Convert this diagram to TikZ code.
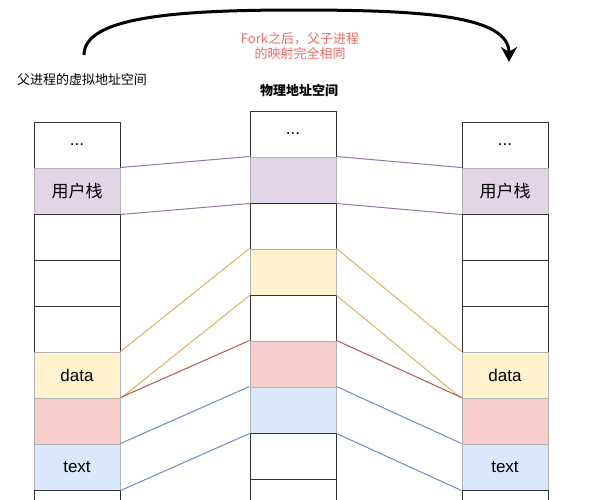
\documentclass[tikz,border=0pt]{standalone}
\usepackage{fontspec}
\setmainfont{Liberation Sans}
\newfontfamily\cjk{Noto Sans CJK SC}
\usepackage{tikz}
\usetikzlibrary{arrows.meta, positioning}
\usepackage{xcolor}
\definecolor{stackfill}{HTML}{E1D5E7}
\definecolor{stackline}{HTML}{9673A6}
\definecolor{datafill}{HTML}{FFF2CC}
\definecolor{dataline}{HTML}{D6B656}
\definecolor{bssfill}{HTML}{F8CECC}
\definecolor{bssline}{HTML}{B85450}
\definecolor{textfill}{HTML}{DAE8FC}
\definecolor{textline}{HTML}{6C8EBF}
\definecolor{forkred}{HTML}{EA6B66}
\tikzstyle{cell} = [rectangle, minimum width=86pt, minimum height=46pt, inner sep=0pt, text centered, draw=black!80, line width=1pt, fill=white, font=\fontsize{17}{20}\selectfont]
\tikzstyle{stackcell} = [cell, draw=black!30, fill=stackfill]
\tikzstyle{datacell} = [cell, draw=black!30, fill=datafill]
\tikzstyle{bsscell} = [cell, draw=black!30, fill=bssfill]
\tikzstyle{textcell} = [cell, draw=black!30, fill=textfill]
\tikzstyle{title} = [font=\cjk\fontsize{13}{15}\selectfont]
\tikzstyle{stacklink} = [draw=stackline, line width=1pt]
\tikzstyle{datalink} = [draw=dataline, line width=1pt]
\tikzstyle{bsslink} = [draw=bssline, line width=1pt]
\tikzstyle{textlink} = [draw=textline, line width=1pt]
\tikzstyle{forkarrow} = [line width=3pt, -{Stealth[length=15pt, width=16pt]}]

\begin{document}
\begin{tikzpicture}[x=1pt, y=-1pt, node distance=46pt]
        \useasboundingbox (0,0) rectangle (616,499);

        % parent virtual address space
        \node (l1) [cell] at (77,145) {...};
        \node (l2) [stackcell, below of=l1] {\cjk 用户栈};
        \node (l3) [cell, below of=l2] {};
        \node (l4) [cell, below of=l3] {};
        \node (l5) [cell, below of=l4] {};
        \node (l6) [datacell, below of=l5] {data};
        \node (l7) [bsscell, below of=l6] {};
        \node (l8) [textcell, below of=l7] {text};
        \node (l9) [cell, below of=l8] {};

        % physical memory
        \node (m1) [cell] at (293,134) {...};
        \node (m2) [stackcell, below of=m1] {};
        \node (m3) [cell, below of=m2] {};
        \node (m4) [datacell, below of=m3] {};
        \node (m5) [cell, below of=m4] {};
        \node (m6) [bsscell, below of=m5] {};
        \node (m7) [textcell, below of=m6] {};
        \node (m8) [cell, below of=m7] {};
        \node (m9) [cell, below of=m8] {};

        % child virtual address space
        \node (r1) [cell] at (505,145) {...};
        \node (r2) [stackcell, below of=r1] {\cjk 用户栈};
        \node (r3) [cell, below of=r2] {};
        \node (r4) [cell, below of=r3] {};
        \node (r5) [cell, below of=r4] {};
        \node (r6) [datacell, below of=r5] {data};
        \node (r7) [bsscell, below of=r6] {};
        \node (r8) [textcell, below of=r7] {text};
        \node (r9) [cell, below of=r8] {};

        \node (vtitle) [title] at (82,80) {父进程的虚拟地址空间};
        \node (ptitle) [title] at (299,90) {\bfseries 物理地址空间};
        \node (forknote) [title, align=center, text=forkred] at (300,46) {Fork之后，父子进程\\的映射完全相同};

        \draw [stacklink] (l2.north east) -- (m2.north west);
        \draw [stacklink] (l2.south east) -- (m2.south west);
        \draw [stacklink] (m2.north east) -- (r2.north west);
        \draw [stacklink] (m2.south east) -- (r2.south west);
        \draw [datalink] (l6.north east) -- (m4.north west);
        \draw [datalink] (l6.south east) -- (m4.south west);
        \draw [datalink] (m4.north east) -- (r6.north west);
        \draw [datalink] (m4.south east) -- (r6.south west);
        \draw [bsslink] (l7.north east) -- (m6.north west);
        \draw [bsslink] (m6.north east) -- (r7.north west);
        \draw [textlink] (l8.north east) -- (m7.north west);
        \draw [textlink] (l8.south east) -- (m7.south west);
        \draw [textlink] (m7.north east) -- (r8.north west);
        \draw [textlink] (m7.south east) -- (r8.south west);

        \coordinate (forkstart) at (84,55);
        \coordinate (forktop) at (296,10);
        \coordinate (forkend) at (509,62);
        \draw [forkarrow] (forkstart) .. controls (84,18) and (170,10) .. (forktop)
            .. controls (420,10) and (509,15) .. (forkend);
    \end{tikzpicture}
\end{document}
